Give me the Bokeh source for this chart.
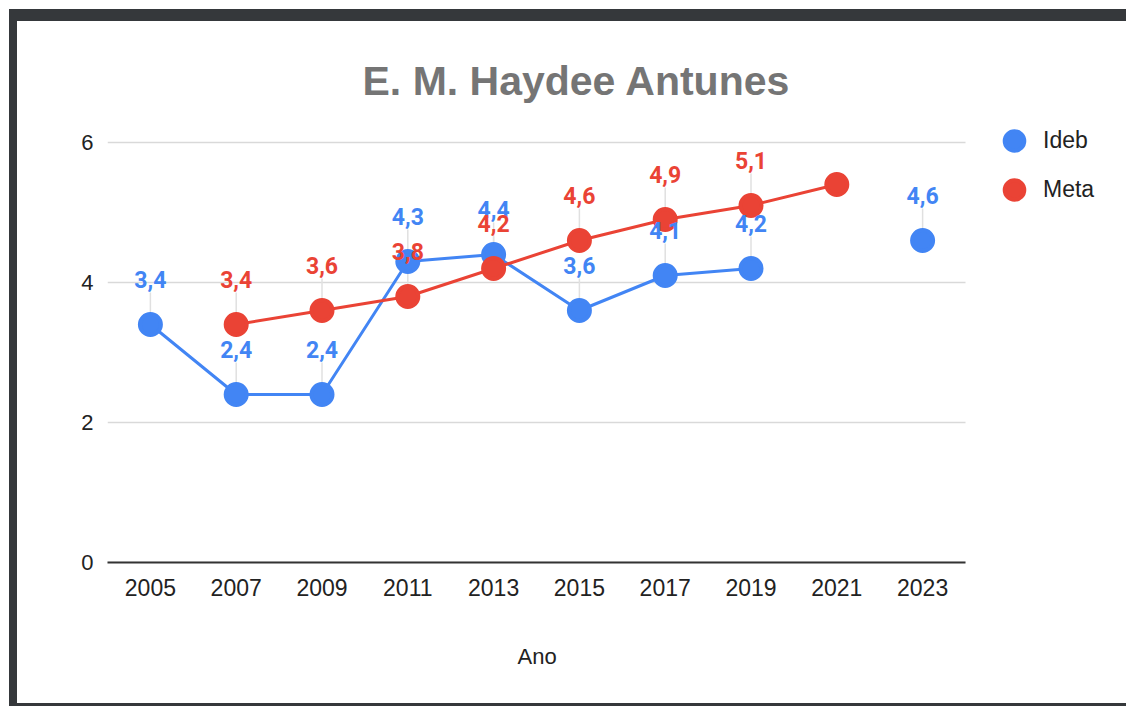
import math
from bokeh.plotting import figure
from bokeh.models import ColumnDataSource, FixedTicker, Legend, LegendItem, Range1d, Title
from bokeh.core.properties import value
from bokeh.embed import file_html
from bokeh.resources import INLINE

NAN = float("nan")
years = [2005, 2007, 2009, 2011, 2013, 2015, 2017, 2019, 2021, 2023]
ideb = [3.4, 2.4, 2.4, 4.3, 4.4, 3.6, 4.1, 4.2, NAN, 4.6]
meta = [NAN, 3.4, 3.6, 3.8, 4.2, 4.6, 4.9, 5.1, 5.4, NAN]
ideb_labels = ["3,4", "2,4", "2,4", "4,3", "4,4", "3,6", "4,1", "4,2", "", "4,6"]
meta_labels = ["", "3,4", "3,6", "3,8", "4,2", "4,6", "4,9", "5,1", "", ""]
y_ticks = [0, 2, 4, 6]

BLUE = "#4285F4"
RED = "#EA4335"
FONT = "Liberation Sans"

W, H = 1117, 697
LEFT, RIGHT, TOP, BOTTOM = 90, 8, 86, 156
x_lo, x_hi = years[0] - 1, years[-1] + 1          # category band limits
px_per_year = 858 / (x_hi - x_lo)
x_end = x_lo + (W - LEFT - RIGHT) / px_per_year    # extra room on the right for the legend

p = figure(x_range=Range1d(x_lo, x_end), y_range=(0, 6.5), width=W, height=H,
           output_backend="svg", toolbar_location=None,
           min_border_left=LEFT, min_border_right=RIGHT, min_border_top=TOP,
           min_border_bottom=BOTTOM, title="E. M. Haydee Antunes")
p.styles = {"margin-top": "9px", "margin-left": "9px",
            "border-top": "12px solid #35383b", "border-left": "8px solid #35383b",
            "border-bottom": "3px solid #35383b"}
p.outline_line_color = None
p.background_fill_color = "white"
p.border_fill_color = "white"

p.title.text_font = FONT
p.title.text_font_size = "41px"
p.title.text_font_style = "bold"
p.title.text_color = "#757575"
p.title.align = "left"
p.title.offset = 255
p.title.standoff = 8

# horizontal gridlines, limited to the category area
p.xgrid.grid_line_color = None
p.ygrid.grid_line_color = None
p.segment(x0=[x_lo] * len(y_ticks), x1=[x_hi] * len(y_ticks), y0=y_ticks, y1=y_ticks,
          line_color="#d9d9d9", line_width=1.5, level="underlay")

p.yaxis.ticker = FixedTicker(ticks=y_ticks)
p.yaxis.axis_line_color = None
p.yaxis.major_tick_line_color = None
p.yaxis.minor_tick_line_color = None
p.yaxis.major_label_text_font = FONT
p.yaxis.major_label_text_font_size = "22px"
p.yaxis.major_label_text_color = "#222222"
p.yaxis.major_label_standoff = 8

p.xaxis.ticker = FixedTicker(ticks=years)
p.xaxis.bounds = (x_lo, x_hi)
p.xaxis.axis_line_color = "#333333"
p.xaxis.axis_line_width = 2
p.xaxis.major_tick_line_color = None
p.xaxis.minor_tick_line_color = None
p.xaxis.major_label_text_font = FONT
p.xaxis.major_label_text_font_size = "23px"
p.xaxis.major_label_text_color = "#222222"
p.xaxis.major_label_standoff = 10

xlabel = Title(text="Ano", align="left", offset=410, standoff=87,
               text_font=FONT, text_font_size="22px", text_font_style="normal",
               text_color="#222222")
p.add_layout(xlabel, "below")

src_i = ColumnDataSource(dict(x=years, y=ideb))
src_m = ColumnDataSource(dict(x=years, y=meta))

def lab_src(vals, labs):
    keep = [i for i, (v, l) in enumerate(zip(vals, labs)) if l and not math.isnan(v)]
    return ColumnDataSource(dict(x=[years[i] for i in keep],
                                 y=[vals[i] for i in keep],
                                 t=[labs[i] for i in keep]))

li = lab_src(ideb, ideb_labels)
lm = lab_src(meta, meta_labels)

# leader lines
p.ray(x="x", y="y", length=32, angle=math.pi / 2, length_units="screen",
      source=li, line_color="#e0e0e0", line_width=1.5)
p.ray(x="x", y="y", length=32, angle=math.pi / 2, length_units="screen",
      source=lm, line_color="#e0e0e0", line_width=1.5)

p.line("x", "y", source=src_i, line_color=BLUE, line_width=3)
ri = p.scatter("x", "y", source=src_i, size=21, fill_color=BLUE, line_color=BLUE, line_width=4)
p.line("x", "y", source=src_m, line_color=RED, line_width=3)
rm = p.scatter("x", "y", source=src_m, size=21, fill_color=RED, line_color=RED, line_width=4)

p.text("x", "y", text="t", source=li, text_color=BLUE, text_font=value("Roboto"),
       text_font_size="23px", text_font_style="bold", text_align="center",
       text_baseline="middle", y_offset=-45)
p.text("x", "y", text="t", source=lm, text_color=RED, text_font=value("Roboto"),
       text_font_size="23px", text_font_style="bold", text_align="center",
       text_baseline="middle", y_offset=-45)

legend = Legend(items=[LegendItem(label="Ideb", renderers=[ri]),
                       LegendItem(label="Meta", renderers=[rm])],
                location=(881, 348), orientation="vertical")
legend.glyph_width = 52
legend.glyph_height = 49
legend.spacing = 0
legend.padding = 0
legend.margin = 0
legend.label_standoff = 3
legend.label_text_font = FONT
legend.label_text_font_size = "23px"
legend.label_text_color = "#222222"
legend.label_height = 49
legend.border_line_color = None
legend.background_fill_alpha = 0
p.add_layout(legend, "center")

open("out.html", "w").write(file_html(p, INLINE))
